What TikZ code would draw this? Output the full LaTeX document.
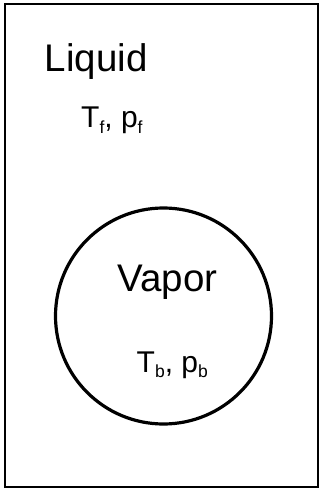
\documentclass[tikz,border=0pt]{standalone}
\usepackage{fontspec}
\setmainfont{Liberation Sans}
\usepackage{tikz}
\newcommand{\subidx}[1]{\raisebox{-0.18em}{\fontsize{17.5}{17.5}\selectfont #1}}

\begin{document}
\begin{tikzpicture}[x=1pt, y=-1pt,
    big/.style={font=\fontsize{38.5}{38.5}\selectfont, anchor=base west, inner sep=0pt},
    small/.style={font=\fontsize{30}{30}\selectfont, anchor=base west, inner sep=0pt}]
  \useasboundingbox (0,0) rectangle (320,489);
  \draw[line width=1.5pt] (5,4) rectangle (318,487);
  \node[circle, draw, line width=3.2pt, minimum size=216pt, inner sep=0pt] (bubble) at (163.5,316) {};
  \node[big] (liquid) at (44.5,72) {Liquid};
  \node[small] (liqstate) at (81,128) {T\subidx{f}, p\subidx{f}};
  \node[big] (vapor) at (117.5,291) {Vapor};
  \node[small] (vapstate) at (136.5,372) {T\subidx{b}, p\subidx{b}};
\end{tikzpicture}
\end{document}
